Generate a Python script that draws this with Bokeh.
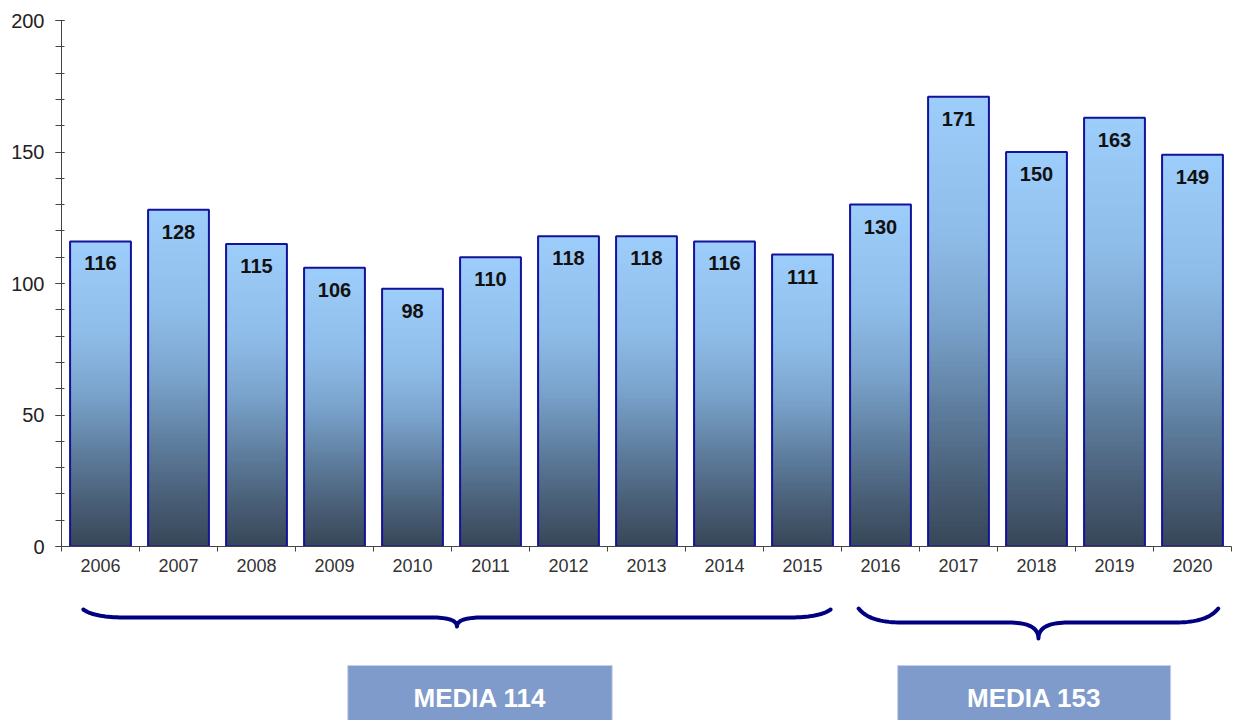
import numpy as np
from bokeh.plotting import figure
from bokeh.models import Range1d, FixedTicker, ColumnDataSource
from bokeh.layouts import column
from bokeh.core.properties import value
from bokeh.embed import file_html
from bokeh.resources import INLINE

# ---------------- data ----------------
years = ["2006", "2007", "2008", "2009", "2010", "2011", "2012", "2013",
         "2014", "2015", "2016", "2017", "2018", "2019", "2020"]
counts = [116, 128, 115, 106, 98, 110, 118, 118, 116, 111, 130, 171, 150, 163, 149]
y_ticks = [0, 50, 100, 150, 200]
y_minor = list(range(0, 201, 10))
group_labels = ["MEDIA 114", "MEDIA 153"]
group_start = [0, 10]   # index of first year in group
group_end = [10, 15]    # index after last year in group

# ---------------- layout / style ----------------
FONT = "Liberation Sans"
W = 1232
H_TOP = 590
H_BOT = 130
BAR_W = 0.78
N_BANDS = 90
grad_pos = [0.0, 0.3, 0.5, 0.7, 0.85, 1.0]          # fraction from top
grad_rgb = [(157, 205, 251), (143, 189, 233), (122, 163, 204),
            (93, 124, 156), (74, 96, 120), (55, 70, 88)]
brace_inset_l = [0.28, 0.22]
brace_inset_r = [0.14, 0.17]
brace_y_end = [19, 18]
brace_y_mid = [27, 32]
brace_y_tip = [36, 48]
brace_rx_end = [0.55, 0.55]
brace_rx_cusp = [0.32, 0.38]
box_left = [3.67, 10.72]
box_right = [7.06, 14.22]
box_top = 75
box_bottom = 140
box_text_y = 107

n = len(years)
centers = np.arange(n) + 0.5

# ---------------- top figure ----------------
p = figure(width=W, height=H_TOP, output_backend="svg", toolbar_location=None,
           x_range=Range1d(0, n), y_range=Range1d(0, 200),
           min_border_left=61, min_border_right=1, min_border_top=20,
           min_border_bottom=44, background_fill_color="white",
           border_fill_color="white", outline_line_color=None)
p.xgrid.visible = False
p.ygrid.visible = False

# gradient bands for each bar
L, R, B, T, C = [], [], [], [], []
gp = np.array(grad_pos)
gr = np.array(grad_rgb, dtype=float)
for xc, v in zip(centers, counts):
    for k in range(N_BANDS):
        f_top = 1 - (k + 0.5) / N_BANDS  # fraction from top
        rgb = [np.interp(f_top, gp, gr[:, j]) for j in range(3)]
        L.append(xc - BAR_W / 2)
        R.append(xc + BAR_W / 2)
        B.append(v * k / N_BANDS)
        T.append(min(v, v * (k + 1.6) / N_BANDS))
        C.append("#%02x%02x%02x" % tuple(int(round(c)) for c in rgb))
p.quad(left=L, right=R, bottom=B, top=T, fill_color=C, line_color=None)

bars = ColumnDataSource(dict(x=list(centers), top=counts, label=[str(c) for c in counts]))
p.vbar(x="x", top="top", bottom=0, width=BAR_W, source=bars,
       fill_color=None, line_color="#12129a", line_width=2)
p.text(x="x", y="top", text="label", source=bars, y_offset=22,
       text_align="center", text_baseline="middle",
       text_font=value(FONT), text_font_style="bold", text_font_size="20px",
       text_color="#111111")

# y axis
ya = p.yaxis[0]
ya.ticker = FixedTicker(ticks=y_ticks, minor_ticks=y_minor)
ya.axis_line_color = "#444444"
ya.major_tick_line_color = "#444444"
ya.minor_tick_line_color = "#444444"
ya.major_tick_out = 6
ya.major_tick_in = 3
ya.minor_tick_out = 6
ya.minor_tick_in = 3
ya.major_label_standoff = 11
ya.major_label_text_font = FONT
ya.major_label_text_font_size = "20px"
ya.major_label_text_color = "#222222"

# x axis
xa = p.xaxis[0]
xa.ticker = FixedTicker(ticks=list(centers), minor_ticks=list(range(n + 1)))
xa.major_label_overrides = {float(c): y for c, y in zip(centers, years)}
xa.axis_line_color = "#444444"
xa.major_tick_line_color = None
xa.major_tick_out = 5
xa.major_tick_in = 0
xa.minor_tick_line_color = "#444444"
xa.minor_tick_out = 5
xa.minor_tick_in = 0
xa.major_label_standoff = 7
xa.major_label_text_font = FONT
xa.major_label_text_font_size = "18px"
xa.major_label_text_color = "#333333"

# ---------------- bottom figure ----------------
p2 = figure(width=W, height=H_BOT, output_backend="svg", toolbar_location=None,
            x_range=p.x_range, y_range=Range1d(H_BOT, 0),
            x_axis_location=None, y_axis_location=None,
            min_border_left=61, min_border_right=1, min_border_top=0,
            min_border_bottom=0, outline_line_color=None,
            background_fill_color="white", border_fill_color="white")
p2.xgrid.visible = False
p2.ygrid.visible = False


def quad_bezier(p0, p1, p2_, m=20):
    t = np.linspace(0, 1, m)
    xs = (1 - t) ** 2 * p0[0] + 2 * (1 - t) * t * p1[0] + t ** 2 * p2_[0]
    ys = (1 - t) ** 2 * p0[1] + 2 * (1 - t) * t * p1[1] + t ** 2 * p2_[1]
    return list(xs), list(ys)


for i in range(len(group_labels)):
    x0 = group_start[i] + brace_inset_l[i]
    x1 = group_end[i] - brace_inset_r[i]
    xm = (x0 + x1) / 2
    ye, ym, yt = brace_y_end[i], brace_y_mid[i], brace_y_tip[i]
    re_, rc = brace_rx_end[i], brace_rx_cusp[i]
    xs, ys = [], []
    a = quad_bezier((x0, ye), (x0 + re_ * 0.25, ym), (x0 + re_, ym))
    b = quad_bezier((xm - rc, ym), (xm, ym), (xm, yt))
    c = quad_bezier((xm, yt), (xm, ym), (xm + rc, ym))
    d = quad_bezier((x1 - re_, ym), (x1 - re_ * 0.25, ym), (x1, ye))
    for seg in (a, b, c, d):
        xs += seg[0]
        ys += seg[1]
    p2.line(xs, ys, line_color="#000080", line_width=4, line_cap="round", line_join="round")

p2.quad(left=box_left, right=box_right, top=[box_top] * 2, bottom=[box_bottom] * 2,
        fill_color="#7f9bcc", line_color="#c5d0e8", line_width=1)
p2.text(x=[(l + r) / 2 for l, r in zip(box_left, box_right)], y=[box_text_y] * 2,
        text=group_labels, text_align="center", text_baseline="middle",
        text_font=value(FONT), text_font_style="bold", text_font_size="26px",
        text_color="white")

layout = column(p, p2, spacing=0)
open("out.html", "w").write(file_html(layout, INLINE))
